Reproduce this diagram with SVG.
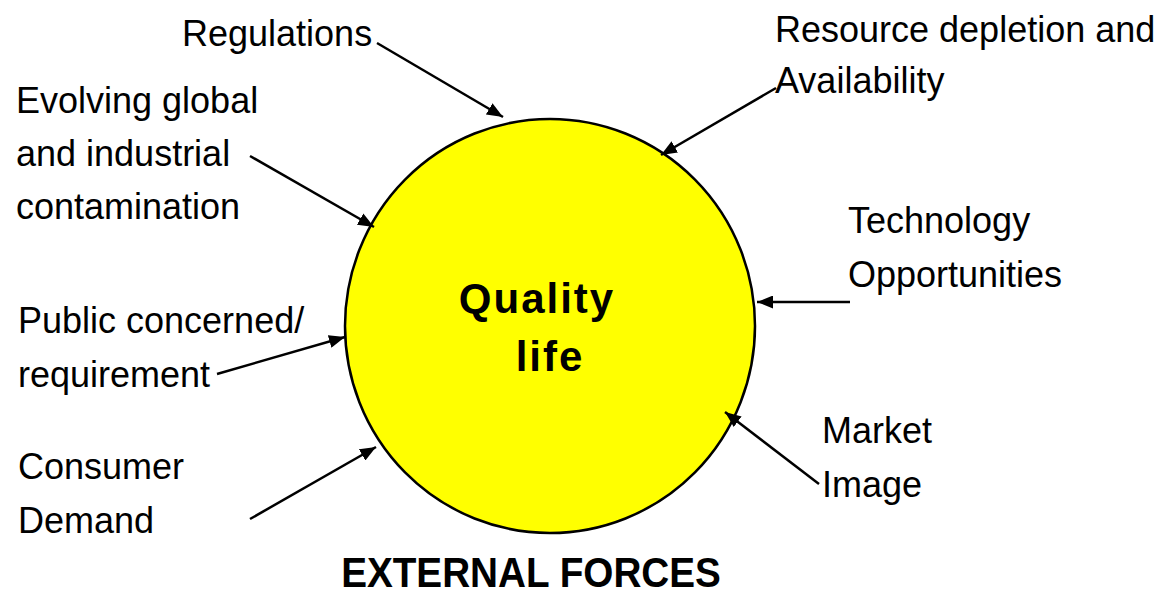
<svg xmlns="http://www.w3.org/2000/svg" width="1175" height="597" viewBox="0 0 1175 597">
<defs>
<style>
.lbl{font-family:"Liberation Sans",Arial,sans-serif;font-size:36px;fill:#000}
.bold{font-family:"Liberation Sans",Arial,sans-serif;font-weight:bold;fill:#000}
.conn{stroke:#000;stroke-width:2.5;fill:none;marker-end:url(#ah)}
</style>
<marker id="ah" viewBox="0 0 10 10" refX="10" refY="5" markerWidth="16" markerHeight="13" markerUnits="userSpaceOnUse" orient="auto" preserveAspectRatio="none">
<path d="M0,0 L10,5 L0,10 z" fill="#000"/>
</marker>
</defs>
<rect width="1175" height="597" fill="#fff"/>
<g id="center">
<ellipse cx="550" cy="326" rx="205" ry="207" fill="#ffff00" stroke="#000" stroke-width="2.5"/>
<text class="bold" font-size="42" x="537" y="313" text-anchor="middle" letter-spacing="2">Quality</text>
<text class="bold" font-size="42" x="550" y="371" text-anchor="middle" letter-spacing="2">life</text>
</g>
<g id="n-regulations"><text class="lbl" x="182" y="46">Regulations</text></g>
<g id="n-resource"><text class="lbl" x="775" y="42">Resource depletion and</text><text class="lbl" x="775" y="93">Availability</text></g>
<g id="n-evolving"><text class="lbl" x="16" y="113">Evolving global</text><text class="lbl" x="16" y="166">and industrial</text><text class="lbl" x="16" y="219">contamination</text></g>
<g id="n-public"><text class="lbl" x="18" y="333">Public concerned/</text><text class="lbl" x="18" y="387">requirement</text></g>
<g id="n-consumer"><text class="lbl" x="18" y="479">Consumer</text><text class="lbl" x="18" y="533">Demand</text></g>
<g id="n-technology"><text class="lbl" x="848" y="233">Technology</text><text class="lbl" x="848" y="287">Opportunities</text></g>
<g id="n-market"><text class="lbl" x="822" y="443">Market</text><text class="lbl" x="822" y="497">Image</text></g>
<g id="title"><text class="bold" font-size="43" transform="translate(531,587) scale(0.9,1)" text-anchor="middle">EXTERNAL FORCES</text></g>
<g id="connectors">
<line class="conn" x1="377" y1="43" x2="503" y2="117"/>
<line class="conn" x1="776" y1="88" x2="661" y2="155"/>
<line class="conn" x1="250" y1="156" x2="374" y2="227"/>
<line class="conn" x1="217" y1="374" x2="345" y2="337"/>
<line class="conn" x1="250" y1="519" x2="376" y2="447"/>
<line class="conn" x1="850" y1="302" x2="757" y2="302"/>
<line class="conn" x1="819" y1="484" x2="725" y2="412"/>
</g>
</svg>
